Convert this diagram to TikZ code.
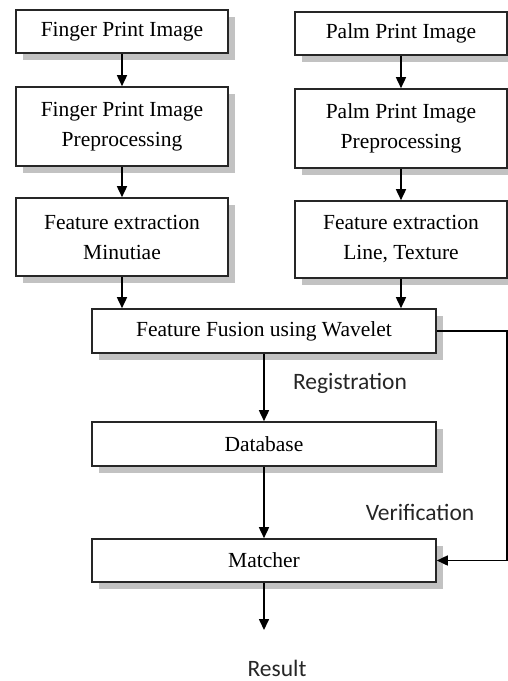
\documentclass[tikz,border=0pt]{standalone}
\usepackage{fontspec}
\setmainfont{Liberation Serif}
\newfontfamily\labfont{Carlito}
\usetikzlibrary{arrows.meta,shadows}
\begin{document}
\begin{tikzpicture}[x=1pt,y=-1pt,
  boxstyle/.style={draw=black!85, line width=1.6pt, fill=white, align=center,
    inner sep=0pt, font=\fontsize{21.5}{30}\selectfont,
    general shadow={fill=black!24, shadow xshift=7pt, shadow yshift=-7pt}},
  arr/.style={line width=1.6pt, draw=black, -{Triangle[length=11pt,width=10pt]}},
  lab/.style={font=\labfont\fontsize{23.5}{28}\selectfont, text=black!85, inner sep=0pt}]
\useasboundingbox (0,0) rectangle (508,681);
\node[boxstyle, minimum width=212pt, minimum height=43pt] (fp1) at (122,31.5) {Finger Print Image};
\node[boxstyle, minimum width=212pt, minimum height=79pt] (fp2) at (122,126.5) {Finger Print Image\\Preprocessing};
\node[boxstyle, minimum width=212pt, minimum height=78pt] (fp3) at (122,237) {Feature extraction\\Minutiae};
\node[boxstyle, minimum width=212pt, minimum height=43pt] (pp1) at (401,33.5) {Palm Print Image};
\node[boxstyle, minimum width=212pt, minimum height=79pt] (pp2) at (401,128.5) {Palm Print Image\\Preprocessing};
\node[boxstyle, minimum width=212pt, minimum height=77pt] (pp3) at (401,239.5) {Feature extraction\\Line, Texture};
\node[boxstyle, minimum width=344pt, minimum height=44pt] (fus) at (264,331) {Feature Fusion using Wavelet};
\node[boxstyle, minimum width=344pt, minimum height=44pt] (db) at (264,444) {Database};
\node[boxstyle, minimum width=344pt, minimum height=43pt] (mat) at (264,560.5) {Matcher};
\node[lab] (reg) at (350,383) {Registration};
\node[lab] (ver) at (420,512) {Verification};
\node[lab] (res) at (277,668) {Result};
\coordinate (resend) at (264,630);
\draw[arr] (fp1) -- (fp2);
\draw[arr] (fp2) -- (fp3);
\draw[arr] (pp1) -- (pp2);
\draw[arr] (pp2) -- (pp3);
\draw[arr] (fp3.south) -- (fp3.south |- fus.north);
\draw[arr] (pp3.south) -- (pp3.south |- fus.north);
\draw[arr] (fus) -- (db);
\draw[arr] (db) -- (mat);
\draw[arr] (mat.south) -- (resend);
\draw[arr] (fus.east) -- ++(70,0) |- (mat.east);
\end{tikzpicture}
\end{document}
